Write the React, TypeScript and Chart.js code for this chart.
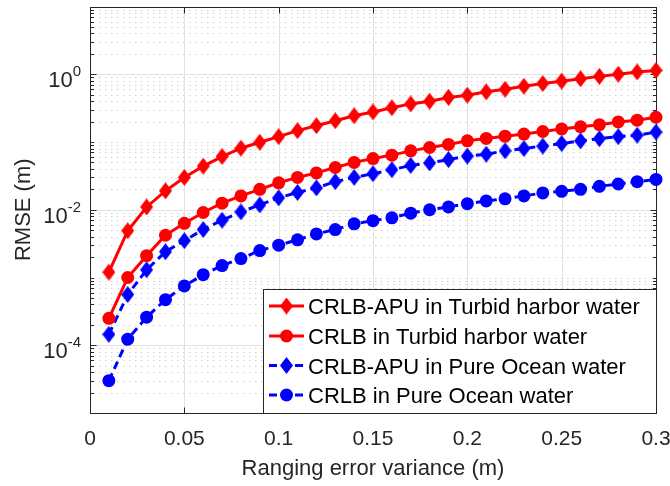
import React, { useEffect, useRef } from 'react';
import { Chart, registerables } from 'chart.js';
Chart.register(...registerables);

const xValues = [0.01, 0.02, 0.03, 0.04, 0.05, 0.06, 0.07, 0.08, 0.09, 0.1, 0.11, 0.12, 0.13, 0.14, 0.15, 0.16, 0.17, 0.18, 0.19, 0.2, 0.21, 0.22, 0.23, 0.24, 0.25, 0.26, 0.27, 0.28, 0.29, 0.3];

const redApu = [1.2e-3, 4.9e-3, 1.1e-2, 1.9e-2, 0.03, 0.044, 0.061, 0.081, 0.099, 0.12, 0.147, 0.174, 0.206, 0.244, 0.278, 0.32, 0.365, 0.4, 0.455, 0.49, 0.55, 0.6, 0.665, 0.73, 0.79, 0.86, 0.93, 1.0, 1.08, 1.14];
const redCrlb = [2.5e-4, 1.0e-3, 2.1e-3, 4.2e-3, 6.3e-3, 9.1e-3, 0.0125, 0.016, 0.02, 0.025, 0.03, 0.035, 0.042, 0.05, 0.057, 0.064, 0.074, 0.083, 0.092, 0.104, 0.113, 0.122, 0.131, 0.143, 0.156, 0.168, 0.18, 0.198, 0.21, 0.232];
const blueApu = [1.45e-4, 5.6e-4, 1.3e-3, 2.4e-3, 3.5e-3, 5.1e-3, 7e-3, 9.3e-3, 0.0118, 0.015, 0.018, 0.021, 0.026, 0.03, 0.034, 0.039, 0.045, 0.049, 0.055, 0.062, 0.066, 0.074, 0.08, 0.087, 0.095, 0.104, 0.112, 0.12, 0.126, 0.14];
const blueCrlb = [3.0e-5, 1.23e-4, 2.6e-4, 4.7e-4, 7.5e-4, 1.1e-3, 1.5e-3, 1.9e-3, 2.5e-3, 3.0e-3, 3.6e-3, 4.4e-3, 5.1e-3, 6.2e-3, 6.9e-3, 7.6e-3, 8.9e-3, 0.01, 0.011, 0.0123, 0.0135, 0.0145, 0.016, 0.0177, 0.0187, 0.02, 0.0222, 0.024, 0.026, 0.028];

const xTicks = [0, 0.05, 0.1, 0.15, 0.2, 0.25, 0.3];
const xTickLabels = ['0', '0.05', '0.1', '0.15', '0.2', '0.25', '0.3'];
const yTickExps = [-4, -2, 0];
const yTickExpLabels = ['-4', '-2', '0'];
const seriesLabels = [
  'CRLB-APU in Turbid harbor water',
  'CRLB in Turbid harbor water',
  'CRLB-APU in Pure Ocean water',
  'CRLB in Pure Ocean water',
];
const xTitle = 'Ranging error variance (m)';
const yTitle = 'RMSE (m)';

const FONT = '"Liberation Sans", Arial, Helvetica, sans-serif';
const AXIS_COLOR = '#262626';

function makeDiamond(color: string, w: number, h: number) {
  const c = document.createElement('canvas');
  c.width = w;
  c.height = h;
  const g = c.getContext('2d')!;
  g.fillStyle = color;
  g.beginPath();
  g.moveTo(w / 2, 0);
  g.lineTo(w, h / 2);
  g.lineTo(w / 2, h);
  g.lineTo(0, h / 2);
  g.closePath();
  g.fill();
  return c;
}

const axesPlugin = {
  id: 'matlabAxes',
  beforeDatasetsDraw(chart: any) {
    const { ctx, chartArea: a, scales } = chart;
    const xs = scales.x;
    const ys = scales.y;
    ctx.save();
    // minor dotted grid
    ctx.lineWidth = 1;
    ctx.strokeStyle = '#d2d2d2';
    ctx.setLineDash([1.5, 4.5]);
    const minorVals: number[] = [];
    for (let d = -5; d <= 0; d++) {
      for (let k = 1; k <= 9; k++) {
        const v = k * Math.pow(10, d);
        if (k === 1 && yTickExps.includes(d)) continue;
        if (k === 1 && d === -5) continue;
        minorVals.push(v);
      }
    }
    minorVals.forEach((v) => {
      const py = Math.round(ys.getPixelForValue(v)) + 0.5;
      ctx.beginPath();
      ctx.moveTo(a.left + 3, py);
      ctx.lineTo(a.right, py);
      ctx.stroke();
    });
    // major grid
    ctx.setLineDash([]);
    ctx.strokeStyle = '#e2e2e2';
    xTicks.forEach((v) => {
      const px = Math.round(xs.getPixelForValue(v)) + 0.5;
      if (px <= a.left + 1 || px >= a.right - 1) return;
      ctx.beginPath();
      ctx.moveTo(px, a.top);
      ctx.lineTo(px, a.bottom);
      ctx.stroke();
    });
    yTickExps.forEach((e) => {
      const py = Math.round(ys.getPixelForValue(Math.pow(10, e))) + 0.5;
      ctx.beginPath();
      ctx.moveTo(a.left, py);
      ctx.lineTo(a.right, py);
      ctx.stroke();
    });
    // box
    ctx.strokeStyle = AXIS_COLOR;
    ctx.lineWidth = 1;
    const L = Math.round(a.left) + 0.5;
    const R = Math.round(a.right) + 0.5;
    const T = Math.round(a.top) + 0.5;
    const B = Math.round(a.bottom) + 0.5;
    ctx.strokeRect(L, T, R - L, B - T);
    // ticks
    ctx.beginPath();
    xTicks.forEach((v) => {
      const px = Math.round(xs.getPixelForValue(v)) + 0.5;
      ctx.moveTo(px, B);
      ctx.lineTo(px, B - 6);
      ctx.moveTo(px, T);
      ctx.lineTo(px, T + 6);
    });
    yTickExps.forEach((e) => {
      const py = Math.round(ys.getPixelForValue(Math.pow(10, e))) + 0.5;
      ctx.moveTo(L, py);
      ctx.lineTo(L + 6, py);
      ctx.moveTo(R, py);
      ctx.lineTo(R - 6, py);
    });
    minorVals.forEach((v) => {
      const py = Math.round(ys.getPixelForValue(v)) + 0.5;
      ctx.moveTo(L, py);
      ctx.lineTo(L + 3.5, py);
      ctx.moveTo(R, py);
      ctx.lineTo(R - 3.5, py);
    });
    ctx.stroke();
    ctx.restore();
  },
  afterDatasetsDraw(chart: any) {
    const { ctx, chartArea: a, scales } = chart;
    const xs = scales.x;
    const ys = scales.y;
    ctx.save();
    ctx.fillStyle = AXIS_COLOR;
    // x tick labels
    ctx.font = `21px ${FONT}`;
    ctx.textAlign = 'center';
    ctx.textBaseline = 'alphabetic';
    xTicks.forEach((v, i) => {
      const px = xs.getPixelForValue(v);
      ctx.fillText(xTickLabels[i], px, a.bottom + 32);
    });
    // y tick labels: 10^e
    yTickExps.forEach((e, i) => {
      const py = ys.getPixelForValue(Math.pow(10, e));
      ctx.textAlign = 'right';
      ctx.font = `15px ${FONT}`;
      const supW = ctx.measureText(yTickExpLabels[i]).width;
      const rightX = a.left - 9;
      ctx.fillText(yTickExpLabels[i], rightX, py + 2);
      ctx.font = `22px ${FONT}`;
      ctx.fillText('10', rightX - supW, py + 13);
    });
    // titles
    ctx.font = `22px ${FONT}`;
    ctx.textAlign = 'center';
    ctx.fillText(xTitle, (a.left + a.right) / 2, a.bottom + 62);
    ctx.save();
    ctx.translate(30, (a.top + a.bottom) / 2);
    ctx.rotate(-Math.PI / 2);
    ctx.fillText(yTitle, 0, 0);
    ctx.restore();

    // legend
    const lx = 263.5;
    const ly = 289.5;
    const lw = Math.round(a.right) + 0.5 - lx;
    const lh = Math.round(a.bottom) + 0.5 - ly;
    ctx.fillStyle = '#ffffff';
    ctx.fillRect(lx, ly, lw, lh);
    ctx.strokeStyle = AXIS_COLOR;
    ctx.lineWidth = 1;
    ctx.strokeRect(lx, ly, lw, lh);
    const rows = [306, 336, 365.5, 395];
    chart.data.datasets.forEach((ds: any, i: number) => {
      const ry = rows[i];
      ctx.save();
      ctx.strokeStyle = ds.borderColor;
      ctx.lineWidth = ds.borderWidth;
      ctx.setLineDash(ds.borderDash || []);
      ctx.beginPath();
      ctx.moveTo(269, ry);
      ctx.lineTo(304, ry);
      ctx.stroke();
      ctx.restore();
      const ps = ds.pointStyle;
      if (typeof ps === 'object') {
        ctx.drawImage(ps, 286.5 - ps.width / 2, ry - ps.height / 2, ps.width, ps.height);
      } else {
        ctx.fillStyle = ds.pointBackgroundColor;
        ctx.beginPath();
        ctx.arc(286.5, ry, 6.5, 0, Math.PI * 2);
        ctx.fill();
      }
      ctx.fillStyle = '#000000';
      ctx.font = `22px ${FONT}`;
      ctx.textAlign = 'left';
      ctx.textBaseline = 'alphabetic';
      ctx.fillText(ds.label, 308, ry + 8);
    });
    ctx.restore();
  },
};

export default function App() {
  const ref = useRef<HTMLCanvasElement>(null);
  useEffect(() => {
    document.body.style.margin = '0';
    const redD = makeDiamond('#ff0000', 13, 17);
    const blueD = makeDiamond('#0000ff', 13, 17);
    const toPts = (arr: number[]) => arr.map((v, i) => ({ x: xValues[i], y: v }));
    const common = {
      tension: 0,
      clip: false as any,
      pointBorderWidth: 0,
      pointRadius: 6.5,
      fill: false,
    };
    const chart = new Chart(ref.current!, {
      type: 'line',
      data: {
        datasets: [
          {
            ...common,
            label: seriesLabels[0],
            data: toPts(redApu),
            borderColor: '#ff0000',
            backgroundColor: '#ff0000',
            pointBackgroundColor: '#ff0000',
            borderWidth: 3,
            pointStyle: redD as any,
          },
          {
            ...common,
            label: seriesLabels[1],
            data: toPts(redCrlb),
            borderColor: '#ff0000',
            backgroundColor: '#ff0000',
            pointBackgroundColor: '#ff0000',
            borderWidth: 3,
            pointStyle: 'circle',
          },
          {
            ...common,
            label: seriesLabels[2],
            data: toPts(blueApu),
            borderColor: '#0000ff',
            backgroundColor: '#0000ff',
            pointBackgroundColor: '#0000ff',
            borderWidth: 3,
            borderDash: [8, 5],
            pointStyle: blueD as any,
          },
          {
            ...common,
            label: seriesLabels[3],
            data: toPts(blueCrlb),
            borderColor: '#0000ff',
            backgroundColor: '#0000ff',
            pointBackgroundColor: '#0000ff',
            borderWidth: 3,
            borderDash: [8, 5],
            pointStyle: 'circle',
          },
        ],
      },
      options: {
        animation: false,
        responsive: false,
        layout: { padding: { top: 1, right: 14, left: 0, bottom: 0 } },
        plugins: { legend: { display: false }, tooltip: { enabled: false } },
        scales: {
          x: {
            type: 'linear',
            min: 0,
            max: 0.3,
            grid: { display: false },
            border: { display: false },
            ticks: { display: false },
            afterFit: (s: any) => {
              s.height = 73;
            },
          },
          y: {
            type: 'logarithmic',
            min: 1e-5,
            max: 10,
            grid: { display: false },
            border: { display: false },
            ticks: { display: false },
            afterFit: (s: any) => {
              s.width = 90;
            },
          },
        },
      },
      plugins: [axesPlugin],
    });
    return () => chart.destroy();
  }, []);
  return (
    <div style={{ position: 'fixed', left: 0, top: 0, width: 670, height: 486, background: '#fff' }}>
      <canvas ref={ref} width={670} height={486} />
    </div>
  );
}
